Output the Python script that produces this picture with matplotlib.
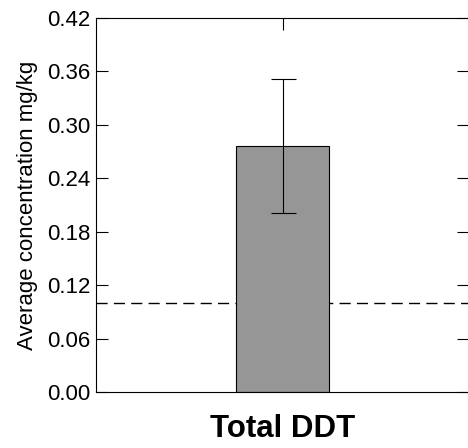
import numpy as np
import matplotlib
matplotlib.use('Agg')
import matplotlib.pyplot as plt

# Values
categories = ['Total DDT']
means = [0.276]
errors = [0.075]
guideline = 0.10
yticks = [0.00, 0.06, 0.12, 0.18, 0.24, 0.30, 0.36, 0.42]

plt.rcParams['font.family'] = ['Liberation Sans', 'DejaVu Sans']

fig = plt.figure(figsize=(4.68, 4.48), dpi=100)
ax = fig.add_axes([96/468, 1 - 392/448, 373/468, 374/448])

x = np.arange(len(categories))
ax.axhline(guideline, color='black', lw=1, dashes=(8, 4.5), zorder=0.8)
ax.bar(x, means, width=0.5, color='#969696', edgecolor='black', linewidth=0.8, zorder=1)
ax.errorbar(x, means, yerr=errors, fmt='none', ecolor='black', elinewidth=0.8,
            capsize=9, capthick=0.8, zorder=2)

ax.set_xlim(-1, 1)
ax.set_ylim(0, 0.42)
ax.set_yticks(yticks)
ax.set_yticklabels(['%.2f' % v for v in yticks], fontsize=16)
ax.set_xticks(x)
ax.set_xticklabels(categories, fontsize=22.5, fontweight='bold')
ax.set_ylabel('Average concentration mg/kg', fontsize=16, labelpad=6)

ax.set_axisbelow(True)
ax.tick_params(axis='y', direction='in', length=8.6, width=0.8, left=True, right=True, pad=4.3)
ax.tick_params(axis='x', direction='in', length=8.6, width=0.8, top=True, bottom=True, pad=16)
for s in ax.spines.values():
    s.set_linewidth(0.8)

fig.savefig('out.png', dpi=100)
